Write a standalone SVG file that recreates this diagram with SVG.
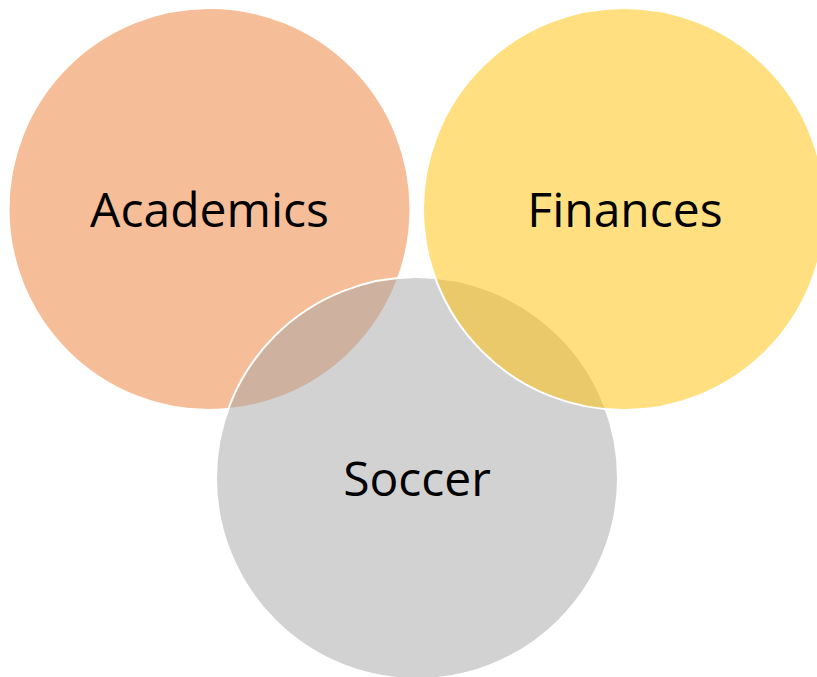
<svg xmlns="http://www.w3.org/2000/svg" width="817" height="677" viewBox="0 0 817 677">
<style>
.c{stroke:#FFFFFF;stroke-width:2;fill-opacity:0.5}
.t{font-family:"Open Sans","Liberation Sans",sans-serif;font-size:48px;fill:#000000;text-anchor:middle}
</style>
<rect width="817" height="677" fill="#FFFFFF"/>
<g id="academics">
<circle class="c" cx="209.5" cy="209" r="201" fill="#ED7D31"/>
<text class="t" x="209.5" y="227">Academics</text>
</g>
<g id="soccer">
<circle class="c" cx="417" cy="478" r="201" fill="#A5A5A5"/>
<text class="t" x="417" y="496">Soccer</text>
</g>
<g id="finances">
<circle class="c" cx="624" cy="209" r="201" fill="#FFC000"/>
<text class="t" x="625" y="227">Finances</text>
</g>
<g id="connectors"/>
</svg>
